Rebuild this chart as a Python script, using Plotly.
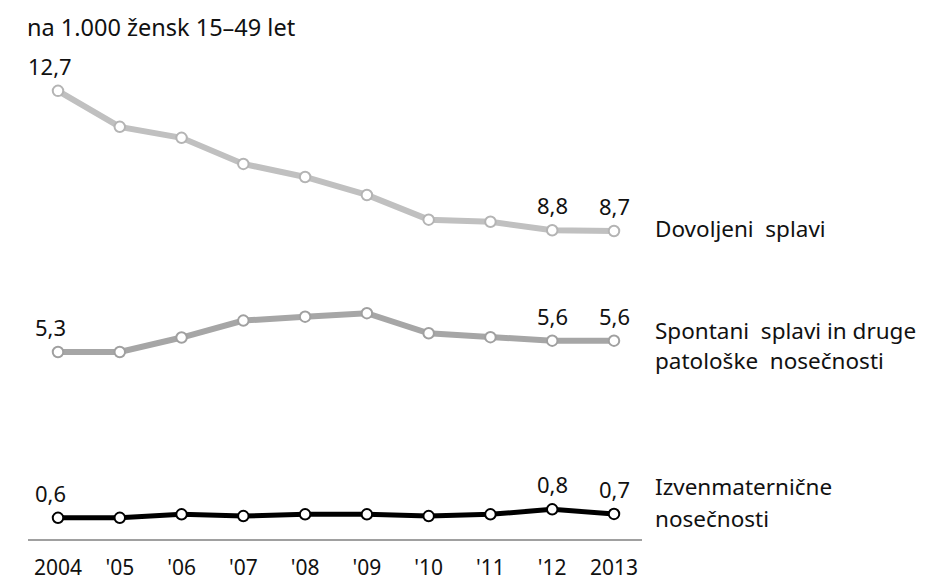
import plotly.graph_objects as go

# ---- data ----
years = [2004, 2005, 2006, 2007, 2008, 2009, 2010, 2011, 2012, 2013]
tick_text = ["2004", "'05", "'06", "'07", "'08", "'09", "'10", "'11", "'12", "2013"]

dovoljeni = [12.7, 11.68, 11.37, 10.63, 10.26, 9.75, 9.05, 8.99, 8.75, 8.73]
dovoljeni_labels = ["12,7", "", "", "", "", "", "", "", "8,8", "8,7"]

spontani = [5.30, 5.30, 5.71, 6.19, 6.30, 6.40, 5.83, 5.72, 5.62, 5.62]
spontani_labels = ["5,3", "", "", "", "", "", "", "", "5,6", "5,6"]

izven = [0.60, 0.60, 0.70, 0.65, 0.70, 0.70, 0.65, 0.70, 0.84, 0.71]
izven_labels = ["0,6", "", "", "", "", "", "", "", "0,8", "0,7"]

subtitle = "na 1.000 žensk 15–49 let"

# series name lines (right side)
name_lines = ["Dovoljeni  splavi", "Spontani  splavi in druge", "patološke  nosečnosti",
              "Izvenmaternične", "nosečnosti"]

# ---- figure ----
W, H = 926, 583
ML, MR, MT, MB = 28, 284, 45, 44
PW, PH = W - ML - MR, H - MT - MB

def px_x(x):
    return (x - ML) / PW

def px_y(y):
    return (H - MB - y) / PH

FONT = "Noto Sans"
TXT = "#111111"

fig = go.Figure()

styles = [
    (dovoljeni, dovoljeni_labels, "#c0c0c0", "#b4b4b4", 6),
    (spontani, spontani_labels, "#a6a6a6", "#a0a0a0", 6),
    (izven, izven_labels, "#000000", "#000000", 5),
]

annotations = []
for vals, labels, lc, mc, lw in styles:
    fig.add_trace(go.Scatter(
        x=years, y=vals, mode="lines+markers",
        line=dict(color=lc, width=lw),
        marker=dict(size=10.5, color="white", line=dict(color=mc, width=2)),
        showlegend=False, hoverinfo="skip",
    ))
    for i, (xv, yv, t) in enumerate(zip(years, vals, labels)):
        if t:
            annotations.append(dict(
                x=xv, y=yv, xref="x", yref="y", text=t, showarrow=False,
                yshift=25, xshift=(-8 if i == 0 else 0),
                font=dict(family=FONT, size=22, color=TXT),
                xanchor="center", yanchor="middle",
            ))

# subtitle
annotations.append(dict(
    x=px_x(25), y=px_y(27), xref="paper", yref="paper", text=subtitle,
    showarrow=False, xanchor="left", yanchor="middle",
    font=dict(family=FONT, size=23.5, color=TXT),
))

name_y = [229, 330, 360, 486, 518]
for t, yy in zip(name_lines, name_y):
    annotations.append(dict(
        x=px_x(653), y=px_y(yy), xref="paper", yref="paper",
        text=t.replace("  ", "&nbsp; "),
        showarrow=False, xanchor="left", yanchor="middle",
        font=dict(family=FONT, size=22.5, color=TXT),
    ))

unit = (614 - 58) / 9.0
fig.update_layout(
    width=W, height=H,
    margin=dict(l=ML, r=MR, t=MT, b=MB, pad=0, autoexpand=False),
    paper_bgcolor="white", plot_bgcolor="white",
    annotations=annotations,
    xaxis=dict(
        range=[2004 - (58 - 28) / unit, 2004 + (642 - 58) / unit],
        tickvals=years, ticktext=tick_text,
        showgrid=False, zeroline=False, automargin=False,
        showline=True, linecolor="#a0a0a0", linewidth=2,
        ticks="", ticklabelstandoff=9,
        tickfont=dict(family=FONT, size=21, color=TXT),
    ),
    yaxis=dict(
        range=[0, 14], visible=False, showgrid=False, zeroline=False,
        automargin=False,
    ),
)

fig.write_html("out.html",
               config={"displayModeBar": False},
               post_script="document.body.style.margin='0px';document.body.style.overflow='hidden';")
